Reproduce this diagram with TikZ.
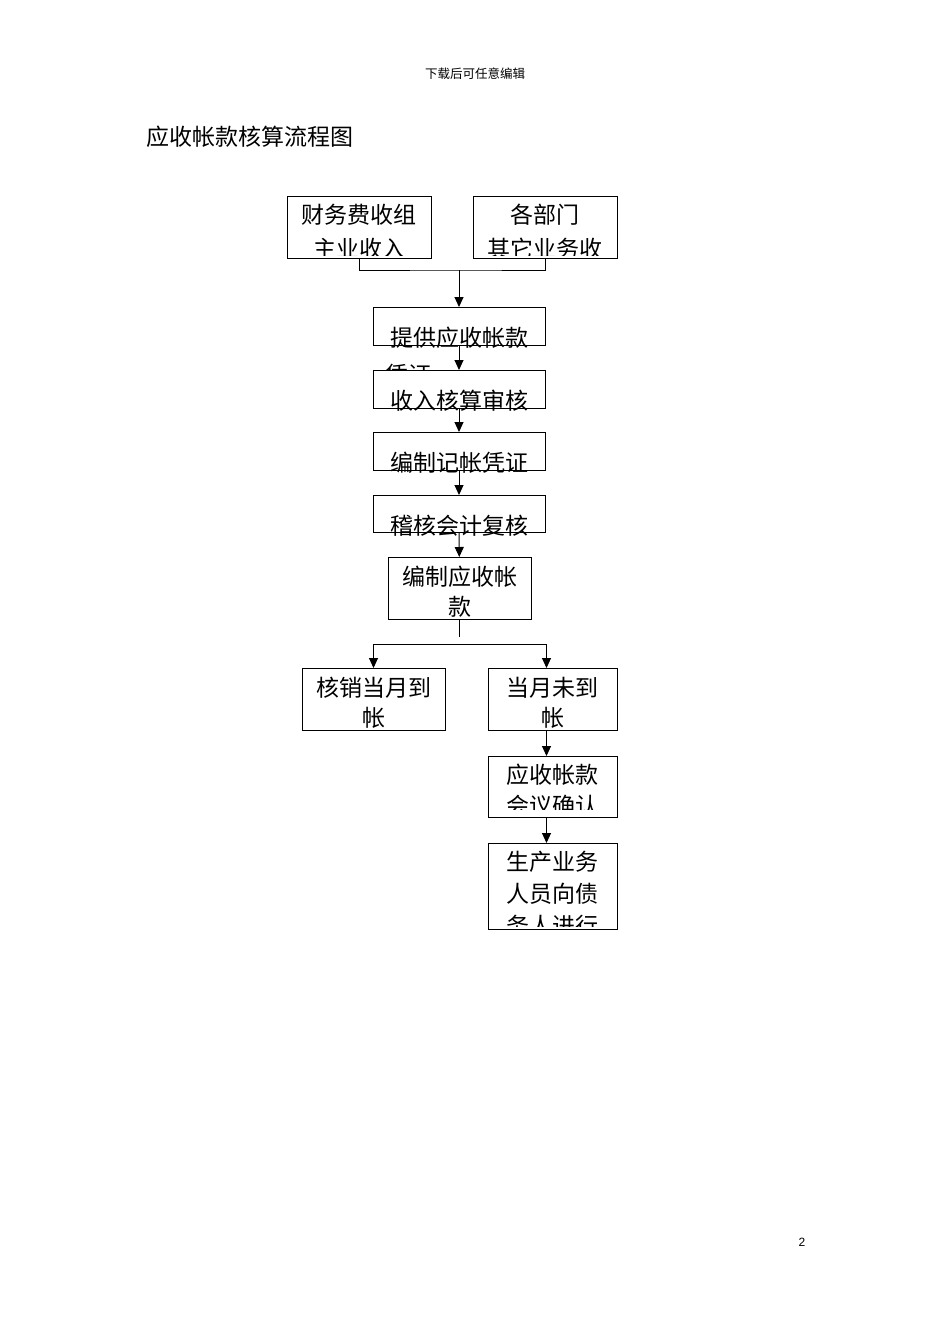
\documentclass[tikz,border=0pt]{standalone}
\usepackage{fontspec}
\setmainfont{Liberation Sans}
\newfontfamily\cjk{Noto Sans CJK SC}
\usetikzlibrary{arrows.meta,positioning}

\begin{document}
\begin{tikzpicture}[x=1pt,y=-1pt,line width=1pt,
    box/.style={draw,fill=white,inner sep=0pt,outer sep=0pt},
    lbl/.style={inner sep=0pt,anchor=base,font=\cjk\fontsize{23}{23}\selectfont},
    arr/.style={-{Triangle[length=10pt,width=9pt]}}]
    \fill[white] (0,0) rectangle (950,1344);
    \useasboundingbox (0,0) rectangle (950,1344);

    \node[font=\cjk\fontsize{12.5}{12.5}\selectfont] (head) at (475,74) {下载后可任意编辑};
    \node[anchor=west,font=\cjk\fontsize{23}{23}\selectfont] (title) at (143,137) {应收帐款核算流程图};
    \node[font=\fontsize{12}{12}\selectfont] (page) at (802,1242) {2};

    \node[box,minimum width=144pt,minimum height=62pt] (fin) at (359,227) {};
    \begin{scope}
        \clip (fin.north west) rectangle ([yshift=3pt]fin.south east);
        \node[lbl] (fin1) at ([yshift=-27pt]fin.north) {财务费收组};
        \node[lbl] (fin2) at ([yshift=-61pt]fin.north) {主业收入};
    \end{scope}

    \node[box,minimum width=144pt,minimum height=62pt] (dept) at (545,227) {};
    \begin{scope}
        \clip (dept.north west) rectangle ([yshift=3pt]dept.south east);
        \node[lbl] (dept1) at ([yshift=-27pt]dept.north) {各部门};
        \node[lbl] (dept2) at ([yshift=-61pt]dept.north) {其它业务收};
    \end{scope}

    \node[box,minimum width=172pt,minimum height=38pt] (prov) at (459,326) {};
    \node[lbl] (prov1) at ([yshift=-39pt]prov.north) {提供应收帐款};
    \node[lbl,anchor=base west] (prov2) at ([xshift=12pt,yshift=-76pt]prov.north west) {凭证};

    \node[box,minimum width=172pt,minimum height=38pt] (audit) at (459,389) {};
    \node[lbl] (audit1) at ([yshift=-39pt]audit.north) {收入核算审核};

    \node[box,minimum width=172pt,minimum height=38pt] (vouch) at (459,451) {};
    \node[lbl] (vouch1) at ([yshift=-39pt]vouch.north) {编制记帐凭证};

    \node[box,minimum width=172pt,minimum height=37pt] (check) at (459,513.5) {};
    \node[lbl] (check1) at ([yshift=-39pt]check.north) {稽核会计复核};

    \node[box,minimum width=143pt,minimum height=62pt] (recv) at (459.5,588) {};
    \node[lbl] (recv1) at ([yshift=-28pt]recv.north) {编制应收帐};
    \node[lbl] (recv2) at ([yshift=-58pt]recv.north) {款};

    \node[box,minimum width=143pt,minimum height=62pt] (paid) at (373.5,699) {};
    \node[lbl] (paid1) at ([yshift=-28pt]paid.north) {核销当月到};
    \node[lbl] (paid2) at ([yshift=-58pt]paid.north) {帐};

    \node[box,minimum width=129pt,minimum height=62pt] (unpaid) at (552.5,699) {};
    \node[lbl] (unpaid1) at ([yshift=-28pt]unpaid.north) {当月未到};
    \node[lbl] (unpaid2) at ([yshift=-58pt]unpaid.north) {帐};

    \node[box,minimum width=129pt,minimum height=61pt] (meet) at (552.5,786.5) {};
    \begin{scope}
        \clip (meet.north west) rectangle ([yshift=8pt]meet.south east);
        \node[lbl] (meet1) at ([yshift=-27pt]meet.north) {应收帐款};
        \node[lbl] (meet2) at ([yshift=-58pt]meet.north) {会议确认};
    \end{scope}

    \node[box,minimum width=129pt,minimum height=86pt] (staff) at (552.5,886) {};
    \begin{scope}
        \clip (staff.north west) rectangle ([yshift=3pt]staff.south east);
        \node[lbl] (staff1) at ([yshift=-27pt]staff.north) {生产业务};
        \node[lbl] (staff2) at ([yshift=-59pt]staff.north) {人员向债};
        \node[lbl] (staff3) at ([yshift=-91pt]staff.north) {务人进行};
    \end{scope}

    \coordinate (join) at (459,270);
    \coordinate (gap) at (459.5,637);
    \coordinate (split) at (459.5,644);

    \draw (fin.south) |- (join) -| (dept.south);
    \draw[arr] (join) -- (prov);
    \foreach \from/\to in {prov/audit,audit/vouch,vouch/check,check/recv}
        \draw[arr] (\from) -- (\to);
    \draw (recv.south) -- (gap);
    \draw[arr] (split) -| (paid.north);
    \draw[arr] (split) -| ([xshift=-6pt]unpaid.north);
    \draw[arr] ([xshift=-6pt]unpaid.south) -- ([xshift=-6pt]meet.north);
    \draw[arr] ([xshift=-6pt]meet.south) -- ([xshift=-6pt]staff.north);
\end{tikzpicture}
\end{document}
